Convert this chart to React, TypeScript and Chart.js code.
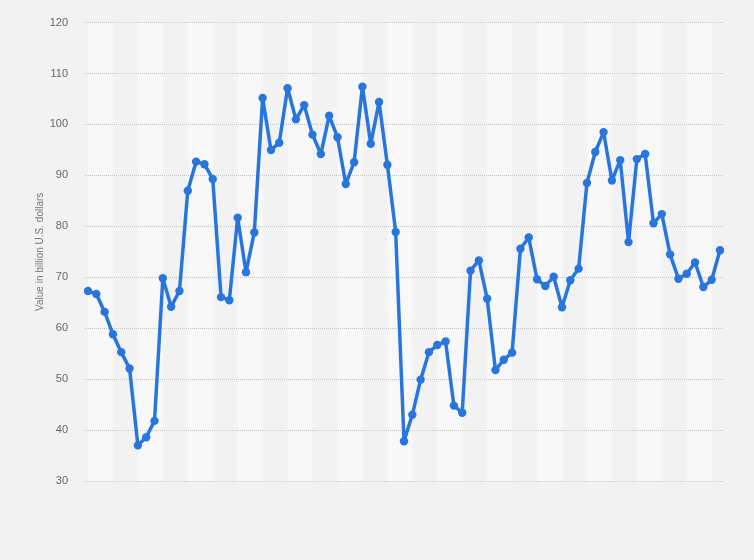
import React, { useEffect, useRef } from 'react';
import { Chart, registerables } from 'chart.js';

Chart.register(...registerables);

// quarterly values, billion U.S. dollars
const START_YEAR = 2000;
const values = [
  67.3, 66.7, 63.2, 58.8, 55.3, 52.1, 37.0, 38.6, 41.8, 69.8,
  64.2, 67.3, 87.0, 92.7, 92.2, 89.3, 66.1, 65.5, 81.7, 71.0,
  78.8, 105.2, 95.0, 96.4, 107.1, 101.0, 103.8, 98.0, 94.2, 101.7,
  97.5, 88.3, 92.6, 107.4, 96.2, 104.4, 92.1, 78.9, 37.8, 43.0,
  49.9, 55.3, 56.7, 57.4, 44.8, 43.4, 71.3, 73.3, 65.8, 51.8,
  53.8, 55.2, 75.6, 77.8, 69.6, 68.3, 70.1, 64.1, 69.4, 71.7,
  88.5, 94.6, 98.5, 89.0, 93.0, 76.9, 93.2, 94.2, 80.6, 82.4,
  74.5, 69.7, 70.7, 72.9, 68.1, 69.5, 75.3,
];
const categories = values.map((_, i) => `Q${(i % 4) + 1} ${START_YEAR + Math.floor(i / 4)}`);
const yTicks = [30, 40, 50, 60, 70, 80, 90, 100, 110, 120];

const BLUE = '#2876dd';

// alternating column bands behind the plot (every third quarter)
const bandsPlugin = {
  id: 'bands',
  beforeDraw(chart: any) {
    const { ctx, chartArea, scales } = chart;
    const x = scales.x;
    ctx.save();
    ctx.fillStyle = '#f8f8f8';
    for (let k = 0; 3 * k + 3 <= values.length - 1; k += 2) {
      const x0 = x.getPixelForValue(3 * k);
      const x1 = x.getPixelForValue(3 * k + 3);
      ctx.fillRect(x0, chartArea.top, x1 - x0, chartArea.bottom - chartArea.top);
    }
    ctx.restore();
  },
};

export default function App() {
  const canvasRef = useRef<HTMLCanvasElement | null>(null);

  useEffect(() => {
    document.body.style.margin = '0';
    if (!canvasRef.current) return;
    const chart = new Chart(canvasRef.current, {
      type: 'line',
      data: {
        labels: categories,
        datasets: [
          {
            data: values.map((v, i) => ({ x: i, y: v })),
            borderColor: BLUE,
            backgroundColor: BLUE,
            borderWidth: 3.5,
            borderJoinStyle: 'round',
            borderCapStyle: 'round',
            pointRadius: 4.2,
            pointBackgroundColor: BLUE,
            pointBorderWidth: 0,
            tension: 0,
            fill: false,
          },
        ],
      },
      plugins: [bandsPlugin],
      options: {
        animation: false,
        responsive: false,
        maintainAspectRatio: false,
        layout: { padding: { top: 20, bottom: 79, left: 0, right: 30 } },
        plugins: { legend: { display: false }, tooltip: { enabled: false } },
        scales: {
          x: {
            type: 'linear',
            display: false,
            min: -0.48,
            max: values.length - 1 + 0.48,
          },
          y: {
            min: 30,
            max: 120,
            afterFit(scale: any) {
              scale.width = 84;
            },
            afterBuildTicks(scale: any) {
              scale.ticks = yTicks.map((v) => ({ value: v }));
            },
            border: { display: false, dash: [1, 1] },
            grid: {
              color: '#c4c4c4',
              lineWidth: 1,
              drawTicks: false,
            },
            ticks: {
              padding: 16,
              color: '#666666',
              font: { family: 'Liberation Sans, Arial, sans-serif', size: 11 },
            },
            title: {
              display: true,
              text: 'Value in billion U.S. dollars',
              color: '#777777',
              padding: { top: 34, bottom: 0 },
              font: { family: 'Liberation Sans, Arial, sans-serif', size: 10 },
            },
          },
        },
      },
    });
    return () => chart.destroy();
  }, []);

  return (
    <div style={{ width: 754, height: 560, background: '#f2f2f2' }}>
      <canvas ref={canvasRef} width={754} height={560} />
    </div>
  );
}
